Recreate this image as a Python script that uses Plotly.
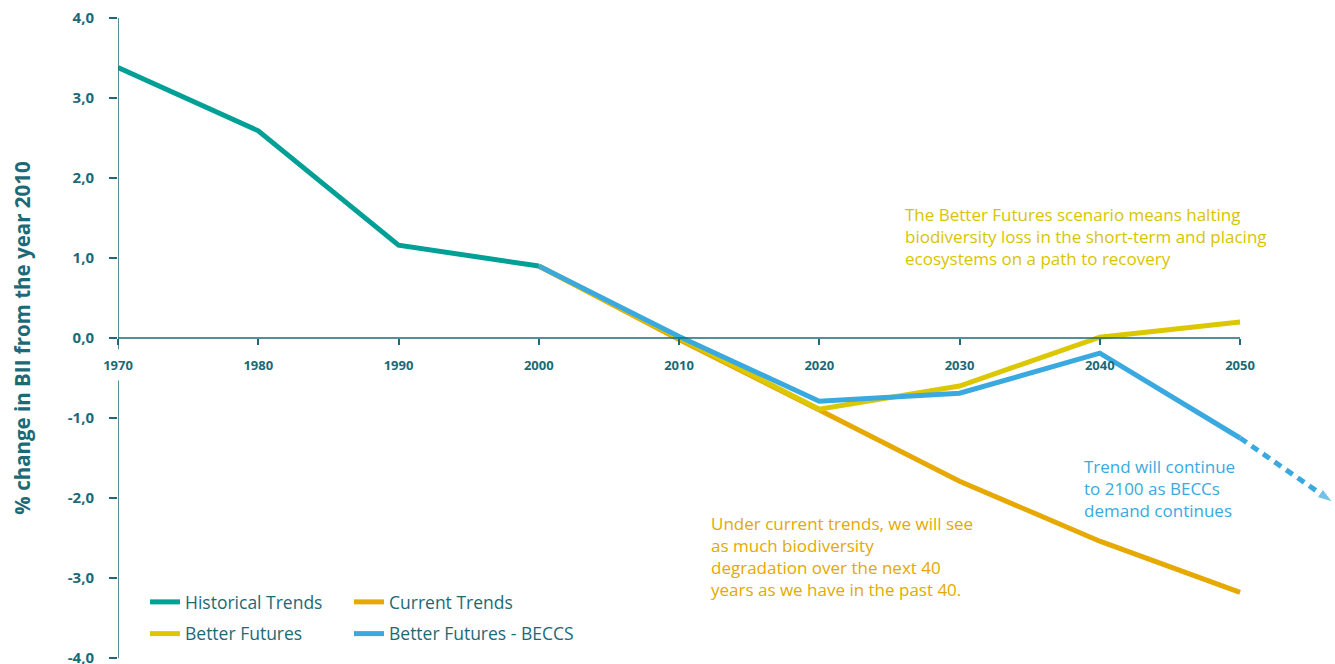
import plotly.graph_objects as go

years_hist = [1970, 1980, 1990, 2000]
hist = [3.38, 2.59, 1.16, 0.90]

years_future = [2000, 2010, 2020, 2030, 2040, 2050]
current = [0.90, -0.02, -0.90, -1.79, -2.54, -3.18]
better = [0.90, 0.00, -0.89, -0.60, 0.01, 0.20]
beccs = [0.90, 0.02, -0.79, -0.69, -0.19, -1.25]

years_ext = [2050, 2056.6]
beccs_ext = [-1.25, -2.05]

tick_years = [1970, 1980, 1990, 2000, 2010, 2020, 2030, 2040, 2050]
y_ticks = [4, 3, 2, 1, 0, -1, -2, -3, -4]
y_ticktext = ["4,0", "3,0", "2,0", "1,0", "0,0", "-1,0", "-2,0", "-3,0", "-4,0"]

C_HIST = "#00a096"
C_CUR = "#e5a900"
C_BET = "#dcc800"
C_BEC = "#3aa9df"
C_AX = "#1b6a76"
FONT = "Open Sans"

fig = go.Figure()
fig.add_trace(go.Scatter(x=years_future, y=current, mode="lines", name="Current Trends",
                         line=dict(color=C_CUR, width=5), legend="legend2", legendgroup="c",
                         legendrank=1))
fig.add_trace(go.Scatter(x=years_future, y=better, mode="lines", name="Better Futures",
                         line=dict(color=C_BET, width=5), legend="legend", legendgroup="b",
                         legendrank=2))
fig.add_trace(go.Scatter(x=years_ext, y=beccs_ext, mode="lines+markers", showlegend=False,
                         line=dict(color=C_BEC, width=5, dash="8px,6px"),
                         marker=dict(symbol="arrow", size=[0, 16], angleref="previous", color=C_BEC),
                         cliponaxis=False))
fig.add_trace(go.Scatter(x=years_future, y=beccs, mode="lines", name="Better Futures - BECCS",
                         line=dict(color=C_BEC, width=5), legend="legend2", legendgroup="d",
                         legendrank=2))
fig.add_trace(go.Scatter(x=years_hist, y=hist, mode="lines", name="Historical Trends",
                         line=dict(color=C_HIST, width=5), legend="legend", legendgroup="a",
                         legendrank=1))

# axis lines (y axis interrupted around the x tick labels)
fig.add_shape(type="line", xref="x", yref="y", x0=1970, x1=2050, y0=0, y1=0,
              line=dict(color=C_AX, width=1.5))
fig.add_shape(type="line", xref="x", yref="y", x0=1970, x1=1970, y0=4, y1=-0.14,
              line=dict(color=C_AX, width=1.5))
fig.add_shape(type="line", xref="x", yref="y", x0=1970, x1=1970, y0=-0.53, y1=-4,
              line=dict(color=C_AX, width=1.5))

ann_font = dict(family=FONT, size=17)
fig.add_annotation(xref="paper", yref="paper", x=(903 - 118) / 1217, y=(664 - 6 - 201) / 640,
                   xanchor="left", yanchor="top", align="left", showarrow=False,
                   text="The Better Futures scenario means halting<br>biodiversity loss in the short-term and placing<br>ecosystems on a path to recovery",
                   font=dict(color="#d8c400", **ann_font))
fig.add_annotation(xref="paper", yref="paper", x=(709 - 118) / 1217, y=(664 - 6 - 510) / 640,
                   xanchor="left", yanchor="top", align="left", showarrow=False,
                   text="Under current trends, we will see<br>as much biodiversity<br>degradation over the next 40<br>years as we have in the past 40.",
                   font=dict(color="#e3a900", **ann_font))
fig.add_annotation(xref="paper", yref="paper", x=(1082 - 118) / 1217, y=(664 - 6 - 453) / 640,
                   xanchor="left", yanchor="top", align="left", showarrow=False,
                   text="Trend will continue<br>to 2100 as BECCs<br>demand continues",
                   font=dict(color=C_BEC, **ann_font))

leg_common = dict(orientation="v", xanchor="left", yanchor="top",
                  itemwidth=30, bgcolor="rgba(0,0,0,0)", traceorder="grouped",
                  font=dict(family=FONT, size=17.5, color=C_AX), tracegroupgap=6)

fig.update_layout(
    width=1335, height=664,
    margin=dict(l=118, r=0, t=18, b=6, autoexpand=False),
    paper_bgcolor="white", plot_bgcolor="white",
    font=dict(family=FONT, color=C_AX),
    legend=dict(x=(145 - 118) / 1217, y=(664 - 6 - 584) / 640, **leg_common),
    legend2=dict(x=(349 - 118) / 1217, y=(664 - 6 - 584) / 640, **leg_common),
    xaxis=dict(range=[1970, 2056.77], tickvals=tick_years, ticks="outside", ticklen=6,
               tickcolor=C_AX, tickwidth=1.5, showline=False, showgrid=False, zeroline=False,
               anchor="free", position=0.5, ticklabelstandoff=9, automargin=False,
               tickfont=dict(family=FONT, size=13, color=C_AX, weight="bold")),
    yaxis=dict(range=[-4, 4], tickvals=y_ticks, ticktext=y_ticktext,
               ticks="outside", ticklen=8, ticklabeloverflow="allow", automargin=False,
               tickcolor=C_AX, tickwidth=1.5, showline=False, showgrid=False, zeroline=False,
               ticklabelstandoff=12,
               tickfont=dict(family=FONT, size=15, color=C_AX, weight="bold"),
               title=dict(text="% change in BII from the year 2010", standoff=31,
                          font=dict(family=FONT, size=20.5, color=C_AX, weight="bold"))),
)

fig.write_html("out.html")
